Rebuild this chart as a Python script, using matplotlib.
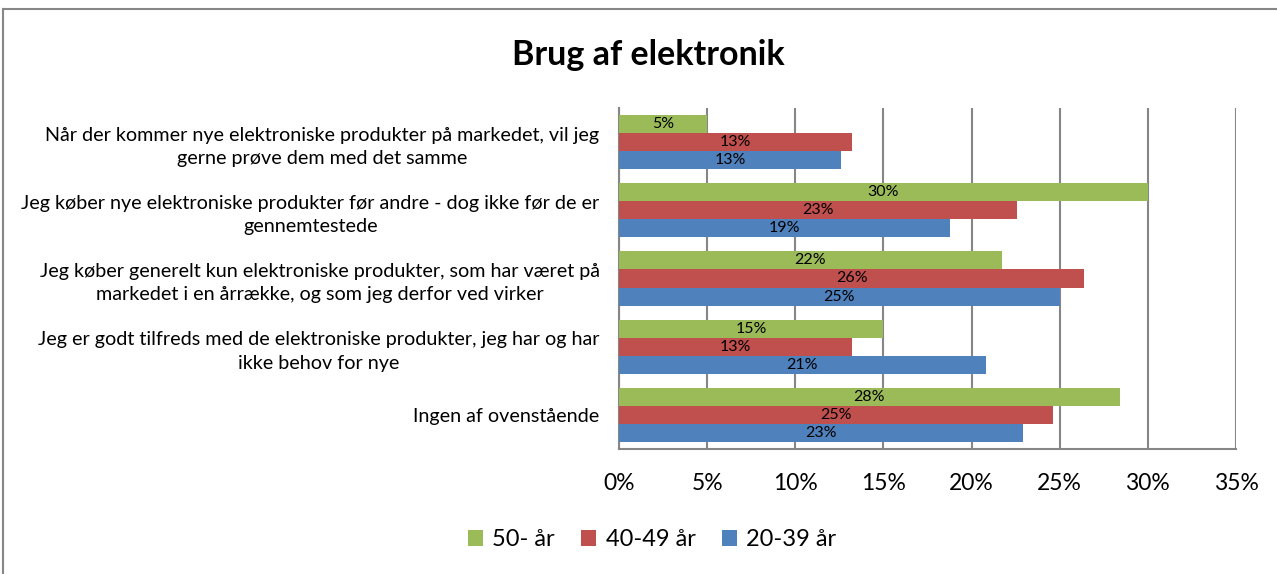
import numpy as np
import matplotlib.pyplot as plt
from matplotlib.lines import Line2D

# -- data --
categories = [
    "Når der kommer nye elektroniske produkter på markedet, vil jeg\ngerne prøve dem med det samme",
    "Jeg køber nye elektroniske produkter før andre - dog ikke før de er\ngennemtestede",
    "Jeg køber generelt kun elektroniske produkter, som har været på\nmarkedet i en årrække, og som jeg derfor ved virker",
    "Jeg er godt tilfreds med de elektroniske produkter, jeg har og har\nikke behov for nye",
    "Ingen af ovenstående",
]
series_names = ["50- år", "40-49 år", "20-39 år"]
age_50 = [5.0, 30.0, 21.7, 15.0, 28.4]
age_40_49 = [13.2, 22.6, 26.4, 13.2, 24.6]
age_20_39 = [12.6, 18.8, 25.0, 20.8, 22.9]
colors = ["#9BBB59", "#C0504D", "#4F81BD"]
xticks = [0, 5, 10, 15, 20, 25, 30, 35]

plt.rcParams['font.family'] = ['Lato', 'DejaVu Sans']

W, H = 1277, 574
fig = plt.figure(figsize=(W / 100, H / 100), dpi=100)
ax = fig.add_axes([619 / W, 1 - 449 / H, (1236 - 619) / W, (449 - 108) / H])

y = np.arange(len(categories))
bh = 0.264
for i, (vals, name, col) in enumerate(zip([age_50, age_40_49, age_20_39], series_names, colors)):
    pos = y + (i - 1) * bh
    bars = ax.barh(pos, vals, height=bh, color=col, label=name, zorder=3)
    for b, v in zip(bars, vals):
        ax.text(v / 2, b.get_y() + b.get_height() / 2, f"{v:.0f}%",
                ha='center', va='center', fontsize=11.5, color='black', zorder=4)

ax.set_ylim(len(categories) - 0.5, -0.5)
ax.set_xlim(0, 35)
ax.set_xticks(xticks)
ax.set_xticklabels([f"{t}%" for t in xticks], fontsize=16.5)
ax.set_yticks(y)
ax.set_yticklabels(categories, fontsize=14.2, multialignment='center', linespacing=1.45)
ax.tick_params(axis='y', length=0, pad=14)
ax.tick_params(axis='x', length=0, pad=17)
ax.grid(axis='x', color='#868686', linewidth=1.5, zorder=0)
for s in ['top', 'right']:
    ax.spines[s].set_visible(False)
for s in ['left', 'bottom']:
    ax.spines[s].set_color('#868686')
    ax.spines[s].set_linewidth(1.5)

fig.text(648 / W, 1 - 55 / H, "Brug af elektronik", ha='center', va='center',
         fontsize=24.5, fontweight='bold')

fig.legend(loc='center', bbox_to_anchor=(652 / W, 1 - 540 / H), ncol=3, frameon=False,
           fontsize=17, handlelength=0.65, handleheight=0.65, handletextpad=0.4,
           columnspacing=1.1)

# chart border
fig.add_artist(Line2D([3 / W, 1], [1 - 9 / H, 1 - 9 / H], color='#868686', linewidth=1.5))
fig.add_artist(Line2D([3 / W, 3 / W], [0, 1 - 9 / H], color='#868686', linewidth=1.5))

fig.savefig('out.png', dpi=100)
